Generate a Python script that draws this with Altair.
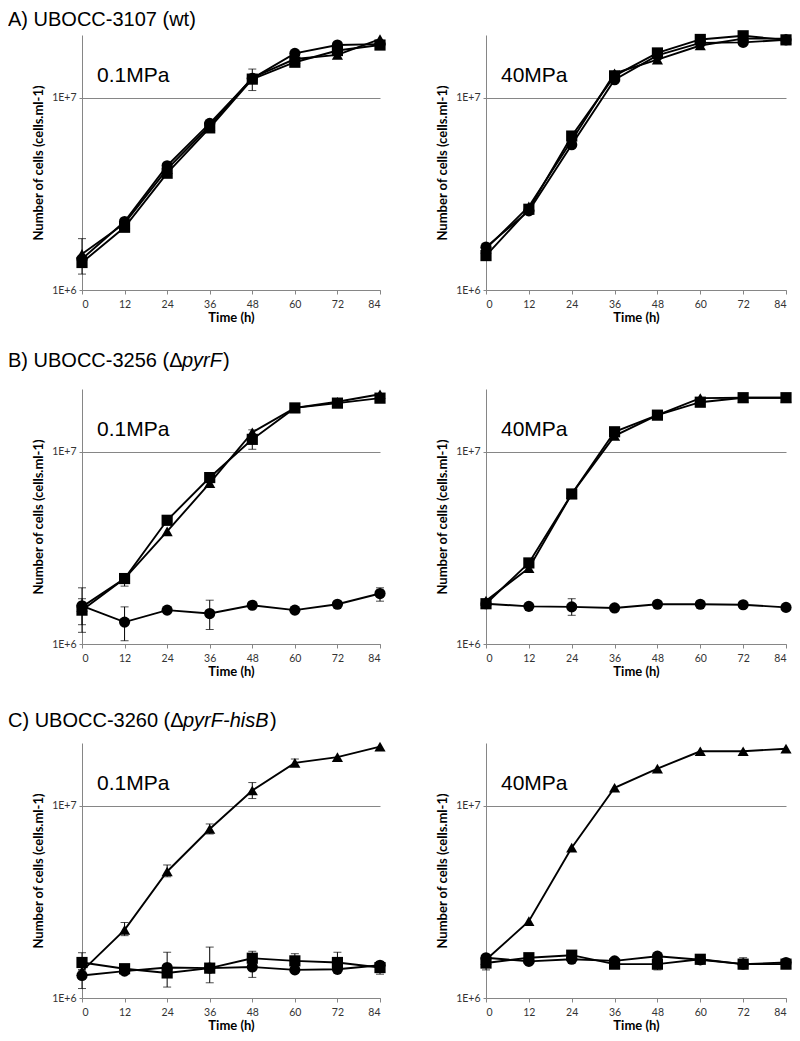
import altair as alt
import pandas as pd

times = [0, 12, 24, 36, 48, 60, 72, 84]
series_names = ["circle", "square", "triangle"]
shape_range = ["circle", "square", "triangle-up"]

# ---- Row A : UBOCC-3107 (wt)
a01_circle = [1.45e6, 2.27e6, 4.43e6, 7.35e6, 1.26e7, 1.70e7, 1.88e7, 1.90e7]
a01_square = [1.39e6, 2.12e6, 4.05e6, 6.97e6, 1.25e7, 1.53e7, 1.76e7, 1.88e7]
a01_triangle = [1.54e6, 2.22e6, 4.25e6, 7.15e6, 1.27e7, 1.59e7, 1.67e7, 2.02e7]
a01_err_t = [0, 48]
a01_err_lo = [1.21e6, 1.09e7]
a01_err_hi = [1.85e6, 1.41e7]

a40_circle = [1.67e6, 2.58e6, 5.70e6, 1.24e7, 1.66e7, 1.93e7, 1.94e7, 2.00e7]
a40_square = [1.51e6, 2.63e6, 6.32e6, 1.30e7, 1.71e7, 2.01e7, 2.10e7, 2.00e7]
a40_triangle = [1.64e6, 2.72e6, 6.00e6, 1.34e7, 1.58e7, 1.87e7, 2.03e7, 2.03e7]
a40_err_t = [0]
a40_err_lo = [1.50e6]
a40_err_hi = [1.75e6]

# ---- Row B : UBOCC-3256 (ΔpyrF)
b01_circle = [1.58e6, 1.30e6, 1.50e6, 1.44e6, 1.59e6, 1.50e6, 1.61e6, 1.83e6]
b01_square = [1.50e6, 2.19e6, 4.40e6, 7.34e6, 1.16e7, 1.69e7, 1.79e7, 1.90e7]
b01_triangle = [1.56e6, 2.19e6, 3.85e6, 6.87e6, 1.26e7, 1.69e7, 1.82e7, 1.99e7]
b01_err_t = [0, 0, 12, 36, 84, 12, 48]
b01_err_lo = [1.15e6, 1.26e6, 1.04e6, 1.19e6, 1.67e6, 2.00e6, 1.03e7]
b01_err_hi = [1.96e6, 1.72e6, 1.56e6, 1.69e6, 1.96e6, 2.30e6, 1.30e7]

b40_circle = [1.62e6, 1.57e6, 1.56e6, 1.54e6, 1.61e6, 1.61e6, 1.60e6, 1.55e6]
b40_square = [1.62e6, 2.64e6, 6.03e6, 1.27e7, 1.55e7, 1.81e7, 1.91e7, 1.91e7]
b40_triangle = [1.68e6, 2.48e6, 6.03e6, 1.21e7, 1.55e7, 1.90e7, 1.91e7, 1.91e7]
b40_err_t = [24]
b40_err_lo = [1.41e6]
b40_err_hi = [1.72e6]

# ---- Row C : UBOCC-3260 (ΔpyrF-hisB)
c01_circle = [1.31e6, 1.38e6, 1.44e6, 1.43e6, 1.45e6, 1.40e6, 1.41e6, 1.48e6]
c01_square = [1.53e6, 1.42e6, 1.35e6, 1.43e6, 1.61e6, 1.56e6, 1.53e6, 1.44e6]
c01_triangle = [1.38e6, 2.26e6, 4.55e6, 7.57e6, 1.20e7, 1.67e7, 1.79e7, 2.03e7]
c01_err_t = [12, 24, 36, 48, 60, 0, 24, 36, 48, 60, 72, 0, 48, 84]
c01_err_lo = [2.11e6, 4.27e6, 7.13e6, 1.09e7, 1.60e7, 1.40e6, 1.14e6, 1.20e6, 1.50e6, 1.45e6, 1.40e6, 1.12e6, 1.28e6, 1.33e6]
c01_err_hi = [2.47e6, 4.92e6, 8.04e6, 1.32e7, 1.75e7, 1.72e6, 1.73e6, 1.84e6, 1.75e6, 1.70e6, 1.73e6, 1.40e6, 1.60e6, 1.55e6]

c40_circle = [1.62e6, 1.55e6, 1.59e6, 1.56e6, 1.65e6, 1.58e6, 1.50e6, 1.53e6]
c40_square = [1.52e6, 1.62e6, 1.67e6, 1.50e6, 1.50e6, 1.59e6, 1.50e6, 1.50e6]
c40_triangle = [1.58e6, 2.51e6, 6.05e6, 1.24e7, 1.56e7, 1.92e7, 1.92e7, 1.98e7]
c40_err_t = [0, 48, 72]
c40_err_lo = [1.40e6, 1.40e6, 1.42e6]
c40_err_hi = [1.68e6, 1.60e6, 1.62e6]

y_ticks = [1e6, 1e7]
y_max = 2.12e7
pressure_labels = ["0.1MPa", "40MPa"]
y_title = "Number of cells (cells.ml-1)"
x_title = "Time (h)"

row_titles = [
    [("A) UBOCC-3107 (wt)", "normal", 0)],
    [("B) UBOCC-3256 (\u0394", "normal", 0), ("pyrF", "italic", 174), (")", "normal", 215)],
    [("C) UBOCC-3260 (\u0394", "normal", 0), ("pyrF-hisB", "italic", 175), (")", "normal", 262)],
]
row_title_y = [-25, -38, -32]   # top of the text box, relative to plot top
PANEL_H = 255
col_widths = [298, 300]

TITLE_FONT = "Liberation Sans"
AXIS_FONT = "Lato"


def panel(circle, square, triangle, err_t, err_lo, err_hi, label, width, height, title_parts=None, title_y=0):
    rows = []
    for name, vals in zip(series_names, [circle, square, triangle]):
        for t, v in zip(times, vals):
            rows.append({"time": t, "value": v, "series": name})
    df = pd.DataFrame(rows)
    edf = pd.DataFrame({"time": err_t, "lo": err_lo, "hi": err_hi})

    xscale = alt.Scale(domain=[0, 84], nice=False)
    yscale = alt.Scale(type="log", domain=[1e6, y_max], nice=False)
    xaxis = alt.Axis(values=times, title=x_title, tickSize=4, labelPadding=5, titlePadding=2,
                     grid=False)
    yaxis = alt.Axis(values=y_ticks, title=y_title, tickSize=3, labelPadding=3, titlePadding=6,
                     grid=True, labelExpr="datum.value >= 5e6 ? '1E+7' : '1E+6'")
    x = alt.X("time:Q", scale=xscale, axis=xaxis)
    y = alt.Y("value:Q", scale=yscale, axis=yaxis)

    rule = alt.Chart(edf).mark_rule(color="black", strokeWidth=1).encode(
        x=alt.X("time:Q", scale=xscale), y=alt.Y("lo:Q", scale=yscale), y2="hi:Q")
    cap_lo = alt.Chart(edf).mark_tick(color="black", thickness=1, size=8, orient="horizontal").encode(
        x=alt.X("time:Q", scale=xscale), y=alt.Y("lo:Q", scale=yscale))
    cap_hi = alt.Chart(edf).mark_tick(color="black", thickness=1, size=8, orient="horizontal").encode(
        x=alt.X("time:Q", scale=xscale), y=alt.Y("hi:Q", scale=yscale))
    lines = alt.Chart(df).mark_line(color="black", strokeWidth=1.9).encode(
        x=x, y=y, detail="series:N")
    points = alt.Chart(df).mark_point(filled=True, color="black", opacity=1, size=125).encode(
        x=x, y=y,
        shape=alt.Shape("series:N", scale=alt.Scale(domain=series_names, range=shape_range), legend=None))
    text = alt.Chart(pd.DataFrame({"t": [label]})).mark_text(
        align="left", baseline="alphabetic", fontSize=21, font=TITLE_FONT, color="black").encode(
        x=alt.value(15), y=alt.value(47), text="t:N")
    layers = [rule, cap_lo, cap_hi, lines, points, text]
    if title_parts:
        for txt, style, off in title_parts:
            layers.append(alt.Chart(pd.DataFrame({"t": [txt]})).mark_text(
                align="left", baseline="top", fontSize=20, font=TITLE_FONT,
                fontStyle=style, color="black").encode(
                x=alt.value(-74 + off), y=alt.value(title_y), text="t:N"))
    return alt.layer(*layers).properties(width=width, height=height)


data_rows = [
    [(a01_circle, a01_square, a01_triangle, a01_err_t, a01_err_lo, a01_err_hi),
     (a40_circle, a40_square, a40_triangle, a40_err_t, a40_err_lo, a40_err_hi)],
    [(b01_circle, b01_square, b01_triangle, b01_err_t, b01_err_lo, b01_err_hi),
     (b40_circle, b40_square, b40_triangle, b40_err_t, b40_err_lo, b40_err_hi)],
    [(c01_circle, c01_square, c01_triangle, c01_err_t, c01_err_lo, c01_err_hi),
     (c40_circle, c40_square, c40_triangle, c40_err_t, c40_err_lo, c40_err_hi)],
]

panels = []
for i, pair in enumerate(data_rows):
    panels.append(panel(*pair[0], pressure_labels[0], col_widths[0], PANEL_H,
                        title_parts=row_titles[i], title_y=row_title_y[i]))
    panels.append(panel(*pair[1], pressure_labels[1], col_widths[1], PANEL_H))

chart = alt.concat(*panels, columns=2, spacing=alt.RowColnumber(row=99, column=106),
                   bounds="flush").properties(
    padding={"top": 2, "left": 0, "right": 0, "bottom": 0}, background="white"
).configure_view(stroke=None).configure_axis(
    domainColor="#868686", tickColor="#868686", gridColor="#868686", gridWidth=1,
    labelColor="#333333", labelFont=AXIS_FONT, labelFontSize=10.5,
    titleFont=AXIS_FONT, titleFontWeight="bold", titleFontSize=13, titleColor="black"
).resolve_scale(shape="independent")

chart.save("out.html", embed_options={"renderer": "svg", "actions": False})
